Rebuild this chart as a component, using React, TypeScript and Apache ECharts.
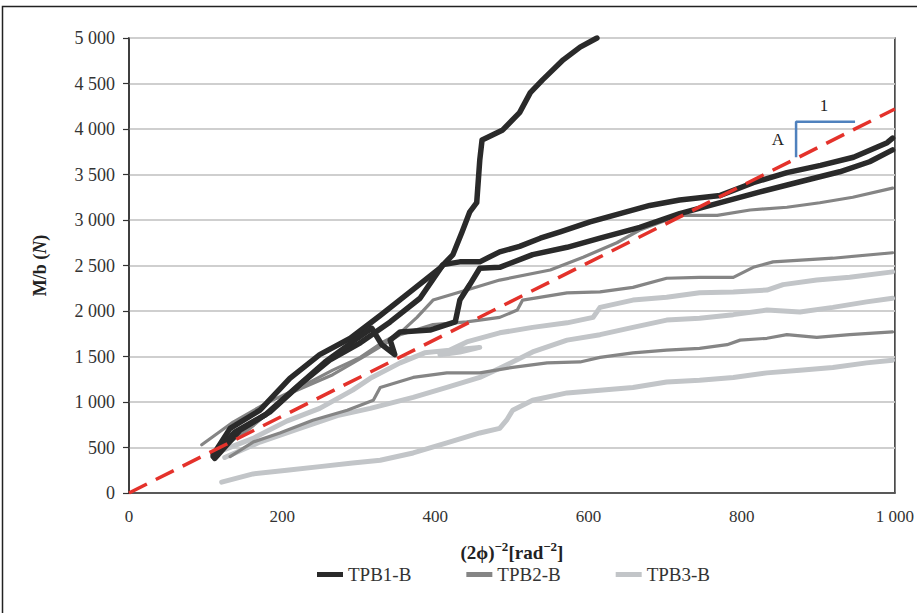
import { useEffect, useRef } from "react";
import * as echarts from "echarts";

// ---- axis ticks ----
const xMin = 0;
const xMax = 1000;
const xStep = 200;
const yMin = 0;
const yMax = 5000;
const yStep = 500;

// ---- legend / series names ----
const seriesNames = ["TPB1-B", "TPB2-B", "TPB3-B"];

// ---- TPB1-B specimens: [(2phi)^-2, M/b] ----
const tpb1a = [
  [110, 420], [132, 710], [171, 910], [210, 1260], [249, 1520], [289, 1700],
  [328, 1950], [367, 2210], [406, 2470], [423, 2620], [435, 2870], [445, 3090],
  [454, 3190], [458, 3660], [461, 3880], [488, 3990], [510, 4180], [524, 4400],
  [540, 4540], [567, 4760], [589, 4900], [611, 5000],
];
const tpb1b = [
  [112, 380], [145, 690], [184, 890], [223, 1190], [262, 1460], [302, 1650],
  [341, 1880], [380, 2140], [410, 2510], [432, 2540], [458, 2540], [484, 2650],
  [510, 2710], [537, 2800], [563, 2870], [602, 2980], [641, 3070], [680, 3160],
  [719, 3220], [772, 3270], [815, 3410], [859, 3520], [903, 3600], [946, 3690],
  [990, 3850], [997, 3900],
];
const tpb1c = [
  [110, 400], [138, 670], [178, 860], [217, 1150], [256, 1440], [295, 1680],
  [317, 1810], [330, 1630], [347, 1520], [341, 1680], [354, 1770], [393, 1790],
  [426, 1880], [432, 2120], [445, 2290], [458, 2470], [484, 2480], [527, 2620],
  [572, 2700], [615, 2800], [667, 2920], [719, 3070], [772, 3190], [824, 3310],
  [876, 3420], [928, 3530], [967, 3640], [997, 3770],
];

// ---- TPB2-B specimens ----
const tpb2a = [
  [95, 530], [136, 780], [180, 990], [223, 1160], [266, 1350], [302, 1490],
  [332, 1660], [354, 1760], [376, 1930], [397, 2120], [441, 2230], [484, 2340],
  [550, 2450], [593, 2590], [637, 2750], [667, 2890], [702, 3000], [723, 3050],
  [768, 3050], [811, 3110], [859, 3140], [902, 3190], [945, 3250], [997, 3350],
];
const tpb2b = [
  [112, 450], [158, 710], [214, 1110], [266, 1300], [311, 1520], [354, 1740],
  [397, 1850], [441, 1880], [484, 1930], [507, 2010], [514, 2120], [572, 2200],
  [615, 2210], [658, 2260], [702, 2360], [745, 2370], [789, 2370], [815, 2480],
  [841, 2540], [919, 2580], [997, 2640],
];
const tpb2c = [
  [132, 400], [162, 560], [197, 660], [240, 800], [285, 910], [319, 1020],
  [328, 1160], [371, 1270], [415, 1320], [458, 1320], [501, 1380], [546, 1430],
  [589, 1440], [615, 1490], [658, 1540], [702, 1570], [745, 1590], [781, 1630],
  [798, 1680], [833, 1700], [859, 1740], [898, 1710], [941, 1740], [997, 1770],
];

// ---- TPB3-B specimens ----
const tpb3a = [
  [121, 120], [162, 210], [206, 250], [249, 290], [292, 330], [328, 360],
  [371, 440], [415, 550], [458, 660], [484, 710], [493, 800], [501, 910],
  [527, 1020], [572, 1100], [615, 1130], [658, 1160], [702, 1220], [745, 1240],
  [789, 1270], [833, 1320], [876, 1350], [919, 1380], [963, 1430], [997, 1460],
];
const tpb3b = [
  [125, 390], [171, 560], [223, 710], [272, 850], [315, 930], [371, 1050],
  [415, 1160], [458, 1270], [484, 1370], [527, 1550], [572, 1680], [615, 1740],
  [658, 1820], [702, 1900], [745, 1920], [789, 1960], [833, 2010], [876, 1990],
  [919, 2040], [963, 2100], [997, 2140],
];
const tpb3c = [
  [116, 450], [162, 600], [206, 790], [249, 930], [292, 1130], [315, 1260],
  [354, 1430], [386, 1540], [419, 1570], [458, 1600], [432, 1550], [406, 1520],
  [441, 1660], [484, 1760], [527, 1820], [572, 1870], [606, 1930], [615, 2040],
  [658, 2120], [702, 2150], [745, 2200], [789, 2210], [833, 2230], [854, 2290],
  [898, 2340], [941, 2370], [997, 2430],
];

// ---- reference line (slope A) and slope bracket ----
const refLine = [[0, 0], [1000, 4220]];
const slopeBracket = [[871, 3690], [871, 4080], [948, 4080]];

const SERIF = "'Liberation Serif', 'Times New Roman', serif";

function fmtThousands(v: number): string {
  if (v < 1000) return String(v);
  const t = Math.floor(v / 1000);
  const r = v % 1000;
  return `${t} ${String(r).padStart(3, "0")}`;
}

function lineSeries(name: string, data: number[][], color: string, width: number, z: number) {
  return {
    type: "line",
    name,
    data,
    color,
    symbol: "none",
    showSymbol: false,
    silent: true,
    z,
    lineStyle: { color, width, join: "round", cap: "round" },
    emphasis: { disabled: true },
  };
}

export default function App() {
  const ref = useRef<HTMLDivElement>(null);

  useEffect(() => {
    document.body.style.margin = "0";
    if (!ref.current) return;
    const chart = echarts.init(ref.current, undefined, { renderer: "svg" });

    const c1 = "#2a2a2a";
    const c2 = "#858585";
    const c3 = "#c2c5c8";

    const option: any = {
      animation: false,
      backgroundColor: "#ffffff",
      grid: {
        left: 129,
        right: 22,
        top: 38,
        bottom: 120,
        show: true,
        borderColor: "#333333",
        borderWidth: 1.5,
      },
      xAxis: {
        type: "value",
        min: xMin,
        max: xMax,
        interval: xStep,
        name: "{b|(2ϕ)}{s|−2}{b|[rad}{s|−2}{b|]}",
        nameLocation: "middle",
        nameGap: 47,
        nameTextStyle: {
          rich: {
            b: { fontFamily: SERIF, fontSize: 19, fontWeight: "bold", color: "#222", lineHeight: 24 },
            s: { fontFamily: SERIF, fontSize: 13, fontWeight: "bold", color: "#222", lineHeight: 13, verticalAlign: "top" },
          },
        },
        axisLine: { show: true, lineStyle: { color: "#333333", width: 1.5 } },
        axisTick: { show: false },
        splitLine: { show: false },
        axisLabel: {
          fontFamily: SERIF,
          fontSize: 17,
          color: "#333333",
          margin: 15,
          formatter: (v: number) => fmtThousands(v),
        },
      },
      yAxis: {
        type: "value",
        min: yMin,
        max: yMax,
        interval: yStep,
        name: "{b|M/b (}{i|N}{b|)}",
        nameLocation: "middle",
        nameRotate: 90,
        nameGap: 80,
        nameTextStyle: {
          rich: {
            b: { fontFamily: SERIF, fontSize: 18, fontWeight: "bold", color: "#222" },
            i: { fontFamily: SERIF, fontSize: 18, fontWeight: "bold", fontStyle: "italic", color: "#222" },
          },
        },
        axisLine: { show: true, lineStyle: { color: "#333333", width: 1.5 } },
        axisTick: { show: true, inside: false, length: 6, lineStyle: { color: "#333333", width: 1.2 } },
        splitLine: { show: true, lineStyle: { color: "#cfcfcf", width: 2 } },
        axisLabel: {
          fontFamily: SERIF,
          fontSize: 18,
          color: "#333333",
          margin: 14,
          formatter: (v: number) => fmtThousands(v),
        },
      },
      legend: {
        data: seriesNames,
        bottom: 24,
        left: 312,
        icon: "rect",
        itemWidth: 26,
        itemHeight: 5,
        itemGap: 55,
        itemStyle: { borderWidth: 0 },
        textStyle: { fontFamily: SERIF, fontSize: 19, color: "#333333" },
      },
      series: [
        lineSeries(seriesNames[2], tpb3a, c3, 5, 2),
        lineSeries(seriesNames[2], tpb3b, c3, 5, 2),
        lineSeries(seriesNames[2], tpb3c, c3, 5, 2),
        lineSeries(seriesNames[1], tpb2a, c2, 3.2, 3),
        lineSeries(seriesNames[1], tpb2b, c2, 3.2, 3),
        lineSeries(seriesNames[1], tpb2c, c2, 3.2, 3),
        lineSeries(seriesNames[0], tpb1a, c1, 5.5, 4),
        lineSeries(seriesNames[0], tpb1b, c1, 5.5, 4),
        lineSeries(seriesNames[0], tpb1c, c1, 5.5, 4),
        {
          type: "line",
          name: "ref",
          data: refLine,
          symbol: "none",
          silent: true,
          z: 6,
          lineStyle: { color: "#e4322b", width: 3.5, type: [20, 10] },
          emphasis: { disabled: true },
        },
        {
          type: "line",
          name: "slope",
          data: slopeBracket,
          symbol: "none",
          silent: true,
          z: 7,
          lineStyle: { color: "#4f81bd", width: 2.5 },
          emphasis: { disabled: true },
        },
      ],
    };
    chart.setOption(option);

    const pA = chart.convertToPixel({ gridIndex: 0 }, [871, 3885]) as number[];
    const p1 = chart.convertToPixel({ gridIndex: 0 }, [910, 4080]) as number[];
    chart.setOption({
      graphic: [
        {
          type: "rect",
          shape: { x: 2.5, y: 6.5, width: 1000, height: 1000 },
          style: { fill: "none", stroke: "#222222", lineWidth: 1.5 },
          silent: true,
          z: 0,
        },
        {
          type: "text",
          x: pA[0] - 12,
          y: pA[1],
          style: { text: "A", font: `17px ${SERIF}`, fill: "#222", align: "right", verticalAlign: "middle" },
          z: 10,
        },
        {
          type: "text",
          x: p1[0] - 2,
          y: p1[1] - 16,
          style: { text: "1", font: `17px ${SERIF}`, fill: "#222", align: "center", verticalAlign: "middle" },
          z: 10,
        },
      ],
    });

    return () => chart.dispose();
  }, []);

  return <div ref={ref} style={{ width: 917, height: 613 }} />;
}
